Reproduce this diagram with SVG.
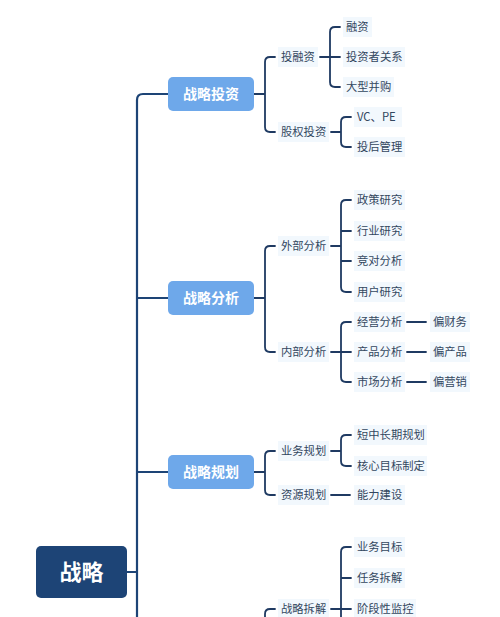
<svg xmlns="http://www.w3.org/2000/svg" width="500" height="617" viewBox="0 0 500 617">
<style>
.ln{fill:none;stroke:#1f3a62;stroke-width:1.8;stroke-linecap:round}
.tr{fill:none;stroke:#1d4476;stroke-width:2.2}
.l1 rect{fill:#6ea8ea}
.l1 text{fill:#ffffff;font-family:"Noto Sans CJK SC",sans-serif;font-size:14px;font-weight:700;text-anchor:middle}
.lb rect{fill:#f2f8fd}
.lb text{fill:#33475f;font-family:"Noto Sans CJK SC",sans-serif;font-size:11.3px}
</style>
<rect width="500" height="617" fill="#ffffff"/>
<g id="connectors">
<path class="tr" d="M168 94 H143 Q137 94 137 100 V617"/>
<path class="tr" d="M137 298 H168 M137 472 H168 M127 572 H137"/>
<!-- 战略投资 -->
<path class="ln" d="M254 94 H265 M275 57 H270 Q265 57 265 62 V127 Q265 132 270 132 H275"/>
<path class="ln" d="M320 57 H340 M340 27 H335 Q330 27 330 32 V82 Q330 87 335 87 H340"/>
<path class="ln" d="M331 132 H341 M351 117 H346 Q341 117 341 122 V142 Q341 147 346 147 H351"/>
<!-- 战略分析 -->
<path class="ln" d="M254 298 H265 M275 246 H270 Q265 246 265 251 V347 Q265 352 270 352 H275"/>
<path class="ln" d="M331 246 H341 M351 200 H346 Q341 200 341 205 V287 Q341 292 346 292 H351 M341 231 H351 M341 261 H351"/>
<path class="ln" d="M331 352 H351 M351 322 H346 Q341 322 341 327 V377 Q341 382 346 382 H351"/>
<path class="ln" d="M407 322 H426 M407 352 H426 M407 382 H426"/>
<!-- 战略规划 -->
<path class="ln" d="M254 472 H265 M275 451 H270 Q265 451 265 456 V490 Q265 495 270 495 H275"/>
<path class="ln" d="M331 451 H341 M351 435 H346 Q341 435 341 440 V461 Q341 466 346 466 H351"/>
<path class="ln" d="M331 495 H350"/>
<!-- 战略拆解 -->
<path class="ln" d="M275 609 H270 Q265 609 265 614 V620"/>
<path class="ln" d="M331 609 H351 M351 547 H346 Q341 547 341 552 V620 M341 578 H351"/>
</g>
<g id="root">
<rect x="36" y="546" width="91" height="52" rx="5" fill="#1d4476"/>
<text x="81.5" y="580" fill="#ffffff" font-family="'Noto Sans CJK SC',sans-serif" font-size="22" font-weight="700" text-anchor="middle">战略</text>
</g>
<g id="n-zltz" class="l1"><rect x="168" y="77" width="86" height="34" rx="5"/><text x="211" y="99">战略投资</text></g>
<g id="n-zlfx" class="l1"><rect x="168" y="281" width="86" height="34" rx="5"/><text x="211" y="303">战略分析</text></g>
<g id="n-zlgh" class="l1"><rect x="168" y="455" width="86" height="34" rx="5"/><text x="211" y="477">战略规划</text></g>

<g id="n-trz" class="lb"><rect x="278" y="47" width="40" height="20"/><text x="281" y="61">投融资</text></g>
<g id="n-gqtz" class="lb"><rect x="278" y="122" width="51" height="20"/><text x="281" y="136">股权投资</text></g>
<g id="n-rz" class="lb"><rect x="343" y="17" width="29" height="20"/><text x="346" y="31">融资</text></g>
<g id="n-tzzgx" class="lb"><rect x="343" y="47" width="62" height="20"/><text x="346" y="61">投资者关系</text></g>
<g id="n-dxbg" class="lb"><rect x="343" y="77" width="51" height="20"/><text x="346" y="91">大型并购</text></g>
<g id="n-vcpe" class="lb"><rect x="354" y="107" width="48" height="20"/><text x="357" y="121">VC、PE</text></g>
<g id="n-thgl" class="lb"><rect x="354" y="137" width="51" height="20"/><text x="357" y="151">投后管理</text></g>

<g id="n-wbfx" class="lb"><rect x="278" y="236" width="51" height="20"/><text x="281" y="250">外部分析</text></g>
<g id="n-nbfx" class="lb"><rect x="278" y="342" width="51" height="20"/><text x="281" y="356">内部分析</text></g>
<g id="n-zcyj" class="lb"><rect x="354" y="190" width="51" height="20"/><text x="357" y="204">政策研究</text></g>
<g id="n-hyyj" class="lb"><rect x="354" y="221" width="51" height="20"/><text x="357" y="235">行业研究</text></g>
<g id="n-jdfx" class="lb"><rect x="354" y="251" width="51" height="20"/><text x="357" y="265">竞对分析</text></g>
<g id="n-yhyj" class="lb"><rect x="354" y="282" width="51" height="20"/><text x="357" y="296">用户研究</text></g>
<g id="n-jyfx" class="lb"><rect x="354" y="312" width="51" height="20"/><text x="357" y="326">经营分析</text></g>
<g id="n-cpfx" class="lb"><rect x="354" y="342" width="51" height="20"/><text x="357" y="356">产品分析</text></g>
<g id="n-scfx" class="lb"><rect x="354" y="372" width="51" height="20"/><text x="357" y="386">市场分析</text></g>
<g id="n-pcw" class="lb"><rect x="430" y="312" width="40" height="20"/><text x="433" y="326">偏财务</text></g>
<g id="n-pcp" class="lb"><rect x="430" y="342" width="40" height="20"/><text x="433" y="356">偏产品</text></g>
<g id="n-pyx" class="lb"><rect x="430" y="372" width="40" height="20"/><text x="433" y="386">偏营销</text></g>

<g id="n-ywgh" class="lb"><rect x="278" y="441" width="51" height="20"/><text x="281" y="455">业务规划</text></g>
<g id="n-zygh" class="lb"><rect x="278" y="485" width="51" height="20"/><text x="281" y="499">资源规划</text></g>
<g id="n-dzcq" class="lb"><rect x="354" y="425" width="73" height="20"/><text x="357" y="439">短中长期规划</text></g>
<g id="n-hxmb" class="lb"><rect x="354" y="456" width="73" height="20"/><text x="357" y="470">核心目标制定</text></g>
<g id="n-nljs" class="lb"><rect x="354" y="485" width="51" height="20"/><text x="357" y="499">能力建设</text></g>

<g id="n-zlcj" class="lb"><rect x="278" y="599" width="51" height="20"/><text x="281" y="613">战略拆解</text></g>
<g id="n-ywmb" class="lb"><rect x="354" y="537" width="51" height="20"/><text x="357" y="551">业务目标</text></g>
<g id="n-rwcj" class="lb"><rect x="354" y="568" width="51" height="20"/><text x="357" y="582">任务拆解</text></g>
<g id="n-jdxjk" class="lb"><rect x="354" y="599" width="62" height="20"/><text x="357" y="613">阶段性监控</text></g>
</svg>
